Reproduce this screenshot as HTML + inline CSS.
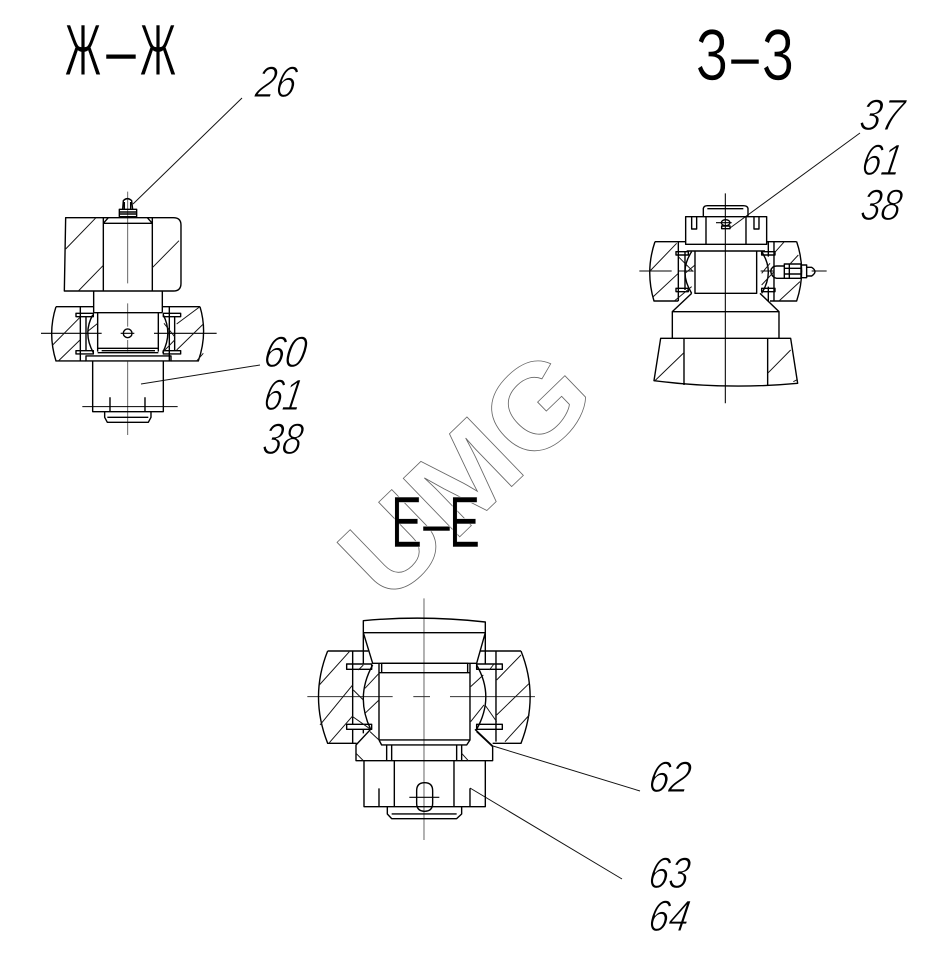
<!DOCTYPE html>
<html>
<head>
<meta charset="utf-8">
<style>
html,body{margin:0;padding:0;background:#fff;width:941px;height:962px;overflow:hidden}
svg{display:block}
.l{fill:none;stroke:#000;stroke-width:4.2;stroke-linejoin:round}
.h{fill:none;stroke:#111;stroke-width:2.9}
.c{fill:none;stroke:#666;stroke-width:3}
.k{fill:none;stroke:#000;stroke-width:3.2}
.n{font-family:"Liberation Sans",sans-serif;font-style:italic;font-size:44px;fill:#000;stroke:#fff;stroke-width:1}
.t{font-family:"Liberation Sans",sans-serif;font-size:72px;fill:#000;stroke:#fff;stroke-width:.6}
</style>
</head>
<body>
<svg width="941" height="962" viewBox="0 0 941 962" xmlns="http://www.w3.org/2000/svg">
<rect width="941" height="962" fill="#fff"/>

<!-- watermark -->
<text transform="translate(388,606) rotate(-44)" font-family="'Liberation Sans',sans-serif" font-weight="bold" font-size="118" textLength="295" lengthAdjust="spacingAndGlyphs" fill="none" stroke="#666" stroke-width="0.8">UMG</text>

<!-- titles -->
<text class="t" x="65" y="75" textLength="36" lengthAdjust="spacingAndGlyphs">Ж</text>
<text class="t" x="106" y="75" textLength="30" lengthAdjust="spacingAndGlyphs">–</text>
<text class="t" x="140" y="75" textLength="36" lengthAdjust="spacingAndGlyphs">Ж</text>
<text class="t" x="696" y="80" textLength="32" lengthAdjust="spacingAndGlyphs">З</text>
<text class="t" x="731" y="80" textLength="28" lengthAdjust="spacingAndGlyphs">–</text>
<text class="t" x="762" y="80" textLength="32" lengthAdjust="spacingAndGlyphs">З</text>
<text class="t" x="391" y="547" textLength="31" lengthAdjust="spacingAndGlyphs">Е</text>
<text class="t" x="423" y="547" textLength="27" lengthAdjust="spacingAndGlyphs">–</text>
<text class="t" x="449" y="547" textLength="31" lengthAdjust="spacingAndGlyphs">Е</text>

<!-- labels -->
<g class="n">
<text transform="translate(254,97) skewX(-10)" textLength="40" lengthAdjust="spacingAndGlyphs">26</text>
<text transform="translate(262,367) skewX(-10)" textLength="42" lengthAdjust="spacingAndGlyphs">60</text>
<text transform="translate(262,410) skewX(-10)" textLength="38" lengthAdjust="spacingAndGlyphs">61</text>
<text transform="translate(261,454) skewX(-10)" textLength="39" lengthAdjust="spacingAndGlyphs">38</text>
<text transform="translate(858,130) skewX(-10)" textLength="43" lengthAdjust="spacingAndGlyphs">37</text>
<text transform="translate(860,175) skewX(-10)" textLength="39" lengthAdjust="spacingAndGlyphs">61</text>
<text transform="translate(859,220) skewX(-10)" textLength="40" lengthAdjust="spacingAndGlyphs">38</text>
<text transform="translate(647,792) skewX(-10)" textLength="41" lengthAdjust="spacingAndGlyphs">62</text>
<text transform="translate(647,888) skewX(-10)" textLength="40" lengthAdjust="spacingAndGlyphs">63</text>
<text transform="translate(647,931) skewX(-10)" textLength="40" lengthAdjust="spacingAndGlyphs">64</text>
</g>

<!-- leaders -->
<g fill="none" stroke="#111" stroke-width="1">
<path d="M242 98L133 204"/>
<path d="M260 365L141 384"/>
<path d="M860 133L730 228"/>
<path d="M640 791L493 746"/>
<path d="M622 879L470 788"/>
</g>

<!-- section Ж-Ж -->
<g transform="translate(30,180) scale(.3333)">
<path class="c" d="M293 35V310M293 370V440M293 480V515M293 545V765"/>
<path class="k" d="M33 460H215M272 460H313M372 460H560M157 680H443"/>
<circle class="l" cx="293" cy="460" r="13"/>
<path class="l" d="M107 113H430Q453 113 453 135V310Q453 333 430 333H103ZM220 113V333M367 113V333M220 130L235 113M367 130L352 113M220 130H367"/>
<path class="l" d="M268 88H320V110H268ZM278 88L280 62Q292 50 305 62L308 88M270 96H320M270 102H320M283 88V66M302 88V66"/>
<path class="l" d="M191 333V398M397 333V398M191 398H397"/>
<path class="l" d="M78 380Q52 460 78 543H168M78 380H191M510 380Q534 460 505 543H423M397 380H510"/>
<path class="l" d="M151 380V543M168 410V512M434 410V512M418 380V543"/>
<path class="l" d="M138 400H190V410H138ZM138 512H190V522H138ZM400 400H452V410H400ZM400 512H452V522H400Z"/>
<path class="l" d="M188 405Q158 460 190 518M400 405Q428 460 398 518"/>
<path class="l" d="M203 398V515M385 398V515M203 505H385M203 518H385M215 512H375"/>
<path class="l" d="M168 528H423V543H168Z"/>
<path class="l" d="M188 543V695H400V543"/>
<path class="l" d="M240 652V695M345 652V695"/>
<path class="l" d="M224 695V712L232 727H355L363 712V695M232 712H355"/>
<path class="h" d="M107 207L198 113M145 333L220 256M367 263L447 182M68 495L150 412M85 543L150 480M440 432L510 380M440 510L520 432M500 543L520 520M172 455L203 430M402 430L434 470M400 515L434 480"/>
</g>

<!-- section З-З -->
<g transform="translate(630,190) scale(.3333)">
<path class="k" d="M286 10V640M28 243H125M145 243H190M392 243H430M545 243H590M258 98H305"/>
<path class="l" d="M220 78V55Q222 47 232 47H340Q352 47 354 55V78M232 56H340"/>
<path class="l" d="M167 80H410V163H167ZM228 80V163M348 80V163"/>
<path class="l" d="M185 80V117H200V80M372 80V117H387V80"/>
<ellipse class="l" cx="287" cy="98" rx="13" ry="9"/>
<path class="l" d="M275 108H300V116H275Z"/>
<path class="l" d="M75 155Q45 243 72 333H145M75 155H167M500 155Q530 243 500 333H420M410 155H500"/>
<path class="l" d="M145 155V333M165 185V300M415 155V200M432 155V333M415 290V333"/>
<path class="l" d="M170 183H405M195 183V310H380V183"/>
<path class="l" d="M185 185Q145 245 185 310M395 185Q435 245 395 310"/>
<path class="l" d="M138 185H175V195H138ZM138 295H175V305H138ZM395 185H435V195H395ZM395 295H435V305H395Z"/>
<path class="l" d="M185 310L127 365H447L390 310M127 365V445M447 365V445"/>
<path class="l" d="M92 445H482L503 580Q290 600 72 572ZM162 445V585M413 445V585"/>
<path class="l" d="M422 243Q425 228 440 228H463V265H440Q425 262 422 243ZM463 222H513V265H463ZM478 222V265M513 225H530V263H513M530 232H545Q565 245 545 258H530M463 235H513M463 252H513"/>
<path class="h" d="M60 243L140 160M70 320L145 250M75 572L162 488M413 550L482 480M447 333L510 275M432 190L463 155M480 222L505 195M133 333L185 290M165 250L195 225M395 250L420 220M145 200L190 245M395 285L432 245M490 575L500 570"/>
</g>

<!-- section Е-Е -->
<g transform="translate(300,590) scale(.3333)">
<path class="c" d="M372 25V750"/>
<path class="c" d="M22 320H278M340 320H390M450 320H705" style="stroke:#333"/>
<path class="l" d="M190 92Q370 75 556 96V128H190ZM190 128L218 220H530L556 128M190 128V183M556 128V183"/>
<path class="l" d="M83 183Q28 320 83 460H170M83 183H205M663 183Q718 320 663 460H578M540 183H663"/>
<path class="l" d="M158 183V405M190 183V222M588 183V455M556 183V222M158 418V460M190 418V430"/>
<path class="l" d="M140 222H215V238H140ZM140 403H215V418H140ZM530 222H607V238H530ZM530 403H607V418H530Z"/>
<path class="l" d="M218 225Q165 320 212 418M530 225Q585 320 530 418"/>
<path class="l" d="M245 220H503V248H245ZM237 220V450M510 220V450M237 248H510M237 450H510L500 465H245L237 450"/>
<path class="l" d="M212 418L168 465V512H578V468L525 418M530 425L578 470"/>
<path class="l" d="M260 465V512M275 465V512M470 465V512M485 465V512"/>
<path class="l" d="M192 512V650H556V512M283 512V650M462 512V650"/>
<path class="l" d="M237 595V648M510 595V648"/>
<path class="l" d="M350 602Q350 578 374 578Q398 578 398 602V640Q398 664 374 664Q350 664 350 640Z"/>
<path class="k" d="M328 622H418"/>
<path class="l" d="M262 650V672L275 686H470L485 672V650M275 672H470"/>
<path class="h" d="M58 285L148 185M60 405L158 285M88 458L158 378M160 300L190 330M158 380L212 418M195 295L237 250M195 370L237 330M590 270L663 195M590 375L688 280M615 455L688 375M512 290L550 255M512 395L552 345M555 345L590 395M175 240L190 225M568 240L582 222M168 490L190 512M210 425L237 450M485 490L505 512"/>
</g>
</svg>
</body>
</html>
